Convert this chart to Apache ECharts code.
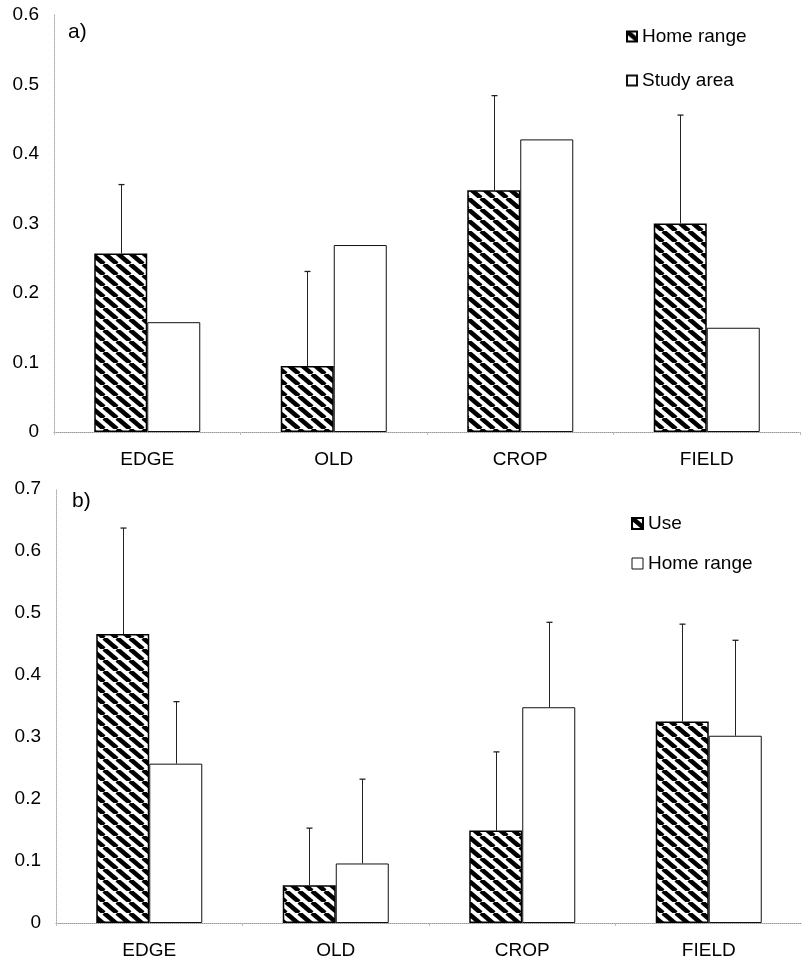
<!DOCTYPE html>
<html><head><meta charset="utf-8">
<script src="https://cdn.jsdelivr.net/npm/echarts@6/dist/echarts.min.js"></script>
<style>html,body{margin:0;padding:0;background:#fff}#c{width:802px;height:963px}</style>
</head><body><div id="c"></div>
<script>
// ---- data ----
const categories = ['EDGE', 'OLD', 'CROP', 'FIELD'];
// panel a)
const homeRangeA = [0.257, 0.095, 0.348, 0.300];
const homeRangeSdA = [0.099, 0.136, 0.136, 0.156];
const studyAreaA = [0.158, 0.269, 0.421, 0.150];
// panel b)
const useB = [0.466, 0.061, 0.149, 0.325];
const useSdB = [0.171, 0.092, 0.127, 0.157];
const homeRangeB = [0.257, 0.096, 0.348, 0.302];
const homeRangeSdB = [0.100, 0.136, 0.137, 0.154];

const FONT = '"Liberation Sans", Arial, sans-serif';
const BAR_W = 53;

function makeHatch() {
  const w = 13, h = 11;
  const c = document.createElement('canvas');
  c.width = w; c.height = h;
  const g = c.getContext('2d');
  g.fillStyle = '#fff'; g.fillRect(0, 0, w, h);
  g.strokeStyle = '#000'; g.lineWidth = 4.6;
  for (let k = -1; k <= 1; k++) {
    g.beginPath(); g.moveTo(k * w, 0); g.lineTo(k * w + w, h); g.stroke();
  }
  return c;
}
const hatch = { image: makeHatch(), repeat: 'repeat' };

function errSeries(means, sds, axisIdx, side) {
  return {
    type: 'custom', xAxisIndex: axisIdx, yAxisIndex: axisIdx, silent: true, z: 5,
    encode: { x: 0, y: [1, 2] },
    data: means.map((m, i) => [i, m, m + sds[i]]),
    renderItem(params, api) {
      const lo = api.coord([api.value(0), api.value(1)]);
      const hi = api.coord([api.value(0), api.value(2)]);
      const x = Math.round(lo[0] + side * BAR_W / 2) + 0.5;
      return { type: 'group', children: [
        { type: 'line', shape: { x1: x, y1: lo[1], x2: x, y2: hi[1] }, style: { stroke: '#222', lineWidth: 1 } },
        { type: 'line', shape: { x1: x - 3, y1: hi[1], x2: x + 3, y2: hi[1] }, style: { stroke: '#222', lineWidth: 1.3 } }
      ]};
    }
  };
}

const hatchStyle = { color: hatch, borderColor: '#000', borderWidth: 1.5 };
const whiteStyle = { color: '#fff', borderColor: '#111', borderWidth: 1 };

function xAxisCfg(gridIndex) {
  return {
    type: 'category', gridIndex, data: categories,
    axisLine: { lineStyle: { color: '#999', type: 'dotted', width: 1 } },
    axisTick: { show: true, length: 3, lineStyle: { color: '#bbb' } },
    axisLabel: { color: '#000', fontSize: 19, fontFamily: FONT, margin: 18 }
  };
}
function yAxisCfg(gridIndex, max) {
  return {
    type: 'value', gridIndex, min: 0, max, interval: 0.1,
    axisLine: { show: true, lineStyle: { color: '#aaa', type: 'dotted', width: 1 } },
    axisTick: { show: false },
    splitLine: { show: false },
    axisLabel: { color: '#000', fontSize: 19, fontFamily: FONT, margin: 15,
      formatter: v => (Math.round(v * 10) / 10).toString() }
  };
}

const chart = echarts.init(document.getElementById('c'), null, { renderer: 'canvas' });
chart.setOption({
  animation: false,
  backgroundColor: '#fff',
  title: [
    { text: 'a)', left: 68, top: 22, padding: 0, textStyle: { fontSize: 21, fontWeight: 'normal', color: '#000', fontFamily: FONT } },
    { text: 'b)', left: 72, top: 491, padding: 0, textStyle: { fontSize: 21, fontWeight: 'normal', color: '#000', fontFamily: FONT } }
  ],
  legend: [
    { data: ['Home range', 'Study area'], orient: 'vertical', left: 621, top: 22, itemWidth: 10, itemHeight: 10,
      itemGap: 25, icon: 'rect', selectedMode: false,
      textStyle: { fontSize: 19, color: '#000', fontFamily: FONT, lineHeight: 19 } },
    { data: [{ name: 'Use' }, { name: 'Home range', itemStyle: { color: '#fff', borderColor: '#111', borderWidth: 1 } }],
      orient: 'vertical', left: 626, top: 509, itemWidth: 11, itemHeight: 11,
      itemGap: 21, icon: 'rect', selectedMode: false,
      textStyle: { fontSize: 19, color: '#000', fontFamily: FONT, lineHeight: 19 } }
  ],
  grid: [
    { left: 54, right: 2, top: 15, bottom: 531 },
    { left: 56, right: 0, top: 489, bottom: 40 }
  ],
  xAxis: [xAxisCfg(0), xAxisCfg(1)],
  yAxis: [yAxisCfg(0, 0.6), yAxisCfg(1, 0.7)],
  series: [
    { name: 'Home range', type: 'bar', xAxisIndex: 0, yAxisIndex: 0, data: homeRangeA,
      barWidth: BAR_W, barGap: '0%', itemStyle: hatchStyle },
    { name: 'Study area', type: 'bar', xAxisIndex: 0, yAxisIndex: 0, data: studyAreaA,
      barWidth: BAR_W, barGap: '0%', itemStyle: whiteStyle },
    errSeries(homeRangeA, homeRangeSdA, 0, -1),
    { name: 'Use', type: 'bar', xAxisIndex: 1, yAxisIndex: 1, data: useB,
      barWidth: BAR_W, barGap: '0%', itemStyle: hatchStyle },
    { name: 'Home range', type: 'bar', xAxisIndex: 1, yAxisIndex: 1, data: homeRangeB,
      barWidth: BAR_W, barGap: '0%', itemStyle: whiteStyle },
    errSeries(useB, useSdB, 1, -1),
    errSeries(homeRangeB, homeRangeSdB, 1, 1)
  ]
});
</script></body></html>
